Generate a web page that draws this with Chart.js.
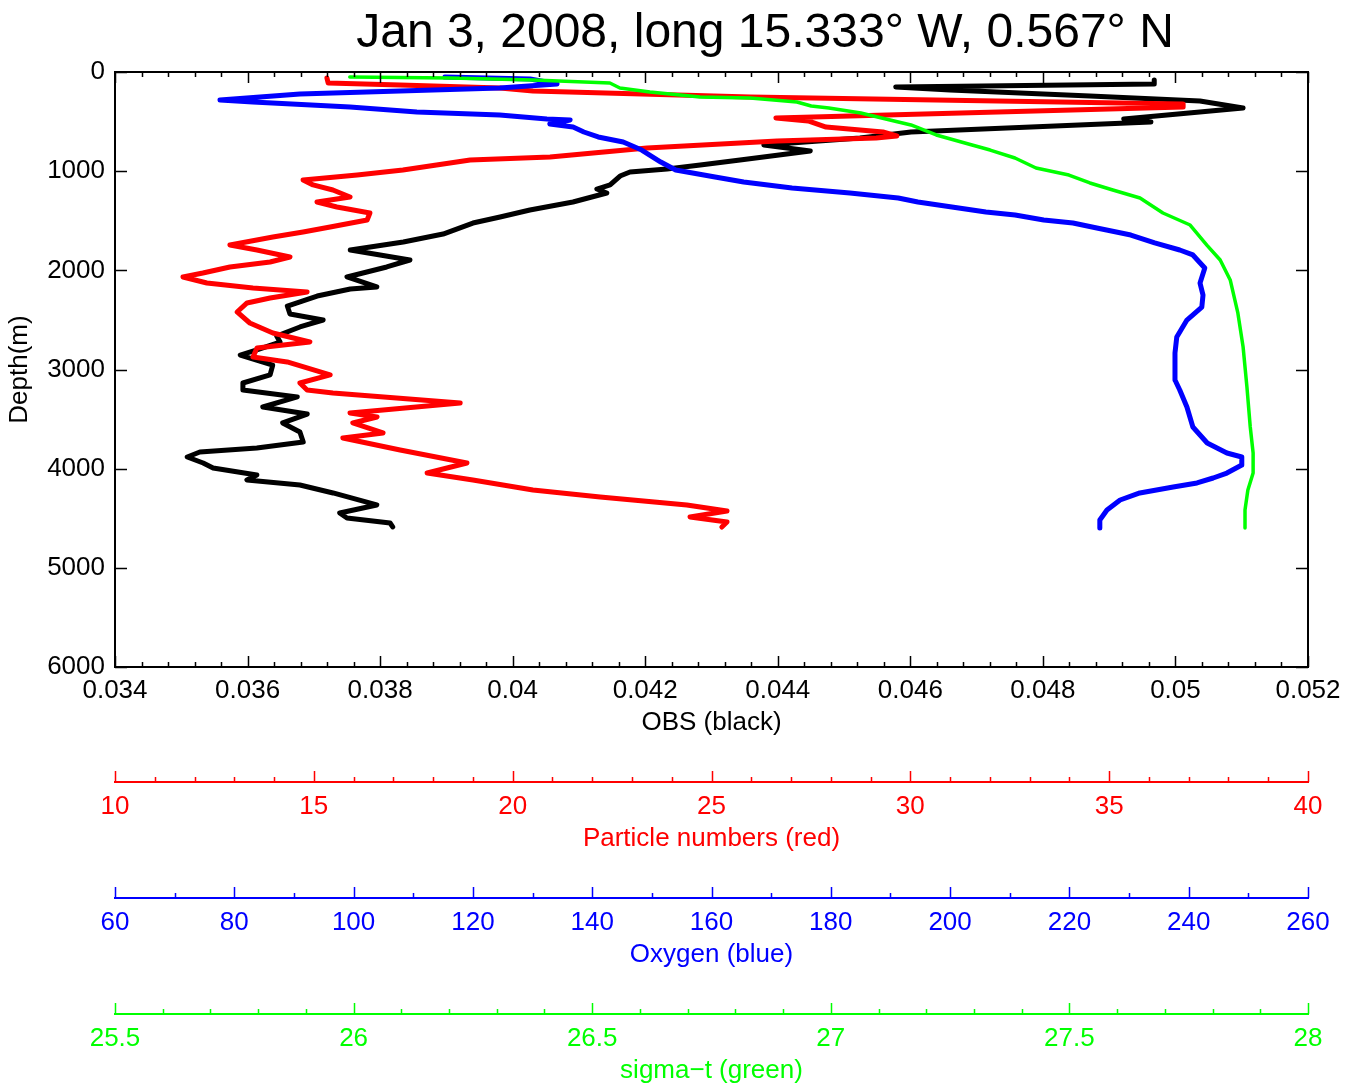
<!DOCTYPE html>
<html>
<head>
<meta charset="utf-8">
<title>Jan 3, 2008 profile</title>
<script src="https://cdn.jsdelivr.net/npm/chart.js@4.4.1/dist/chart.umd.min.js"></script>
<style>
  html, body { margin: 0; padding: 0; background: #fff; }
  #wrap { width: 1359px; height: 1088px; }
</style>
</head>
<body>
<div id="wrap"><canvas id="profile" width="1359" height="1088"></canvas></div>
<script>
// Cast of Jan 3, 2008 (15.333 W, 0.567 N): four quantities against depth

// OBS (black)
const obsDepth = [81, 121, 151, 182, 242, 292, 363, 474, 504, 605,
  666, 736, 797, 887, 938, 978, 1008, 1049, 1139, 1180,
  1220, 1311, 1392, 1462, 1523, 1634, 1714, 1795, 1896, 1966,
  2067, 2168, 2188, 2259, 2360, 2440, 2501, 2571, 2662, 2723,
  2803, 2854, 2955, 3055, 3136, 3207, 3277, 3378, 3449, 3539,
  3630, 3731, 3792, 3832, 3882, 3943, 3993, 4064, 4114, 4165,
  4245, 4366, 4447, 4497, 4548, 4588];
const obsValue = [0.04968, 0.04968, 0.04578, 0.04660, 0.04871, 0.05037, 0.05102, 0.04922, 0.04963, 0.04601,
  0.04524, 0.04379, 0.04449, 0.04343, 0.04283, 0.04233, 0.04177, 0.04162, 0.04147, 0.04127,
  0.04142, 0.04091, 0.04026, 0.03981, 0.03940, 0.03895, 0.03835, 0.03755, 0.03845, 0.03810,
  0.03750, 0.03795, 0.03755, 0.03705, 0.03660, 0.03664, 0.03714, 0.03679, 0.03644, 0.03649,
  0.03614, 0.03589, 0.03638, 0.03634, 0.03593, 0.03593, 0.03675, 0.03623, 0.03690, 0.03653,
  0.03679, 0.03684, 0.03614, 0.03528, 0.03509, 0.03533, 0.03548, 0.03614, 0.03599, 0.03679,
  0.03729, 0.03795, 0.03739, 0.03750, 0.03815, 0.03819];

// Particle numbers (red)
const particleDepth = [61, 111, 131, 161, 192, 252, 323, 353, 464, 494,
  555, 605, 645, 666, 696, 766, 857, 887, 988, 1039,
  1089, 1139, 1190, 1261, 1311, 1361, 1422, 1492, 1563, 1613,
  1664, 1745, 1795, 1866, 1916, 1966, 2027, 2067, 2128, 2178,
  2218, 2279, 2329, 2420, 2531, 2632, 2723, 2783, 2874, 2924,
  3055, 3136, 3207, 3237, 3338, 3439, 3479, 3539, 3640, 3691,
  3812, 3943, 4044, 4114, 4215, 4286, 4366, 4427, 4487, 4538, 4588];
const particleValue = [15.33, 15.36, 17.17, 19.68, 20.51, 25.97, 36.86, 36.86, 26.62, 27.43,
  27.88, 29.31, 29.66, 29.14, 26.65, 23.38, 20.94, 18.93, 17.24, 16.09,
  14.73, 14.98, 15.48, 15.91, 15.08, 15.58, 16.41, 16.34, 15.41, 14.73,
  13.97, 12.89, 13.57, 14.40, 13.90, 12.89, 12.21, 11.71, 12.31, 13.47,
  14.83, 13.90, 13.32, 13.07, 13.39, 13.97, 14.90, 13.57, 13.47, 14.33,
  15.41, 14.65, 14.83, 15.48, 18.68, 15.91, 16.59, 15.98, 16.74, 15.73,
  17.17, 18.85, 17.85, 19.00, 20.51, 22.20, 24.38, 25.39, 24.46, 25.39, 25.26];

// Oxygen (blue)
const oxygenDepth = [50, 71, 121, 161, 202, 222, 282, 303, 353, 403,
  434, 474, 484, 524, 555, 605, 655, 706, 787, 908,
  988, 1059, 1109, 1170, 1220, 1271, 1311, 1361, 1412, 1442,
  1492, 1523, 1573, 1644, 1724, 1795, 1845, 1976, 2128, 2249,
  2370, 2501, 2672, 2834, 3106, 3207, 3378, 3580, 3741, 3842,
  3882, 3963, 4044, 4094, 4144, 4185, 4245, 4316, 4417, 4518, 4598];
const oxygenValue = [115.3, 129.6, 134.1, 124.5, 102.2, 91.0, 77.6, 83.1, 99.4, 110.6,
  124.5, 132.4, 136.3, 132.9, 136.8, 138.6, 141.0, 145.2, 148.3, 151.5,
  154.0, 160.6, 165.4, 173.5, 183.2, 191.3, 194.6, 200.3, 206.0, 210.9,
  215.7, 220.6, 224.6, 230.3, 234.3, 238.5, 240.7, 242.7, 241.9, 242.4,
  242.2, 239.7, 238.0, 237.7, 237.7, 238.5, 239.7, 240.7, 243.1, 246.4,
  248.9, 248.9, 246.4, 244.1, 241.4, 237.4, 231.8, 228.5, 226.3, 225.1, 225.1];

// sigma-t (green)
const sigmaDepth = [50, 61, 81, 111, 161, 202, 252, 262, 303, 343,
  363, 413, 484, 534, 635, 736, 787, 867, 968, 1039,
  1119, 1190, 1271, 1422, 1543, 1745, 1896, 2097, 2430, 2773,
  3176, 3580, 3842, 4044, 4215, 4417, 4598];
const sigmaValue = [25.992, 26.202, 26.376, 26.537, 26.558, 26.621, 26.726, 26.831, 26.929, 26.959,
  26.996, 27.063, 27.124, 27.168, 27.221, 27.296, 27.334, 27.386, 27.430, 27.499,
  27.543, 27.591, 27.648, 27.696, 27.753, 27.788, 27.816, 27.837, 27.853, 27.864,
  27.872, 27.879, 27.885, 27.885, 27.874, 27.868, 27.868];

// axis tick labels
const depthTicks = [0, 1000, 2000, 3000, 4000, 5000, 6000];
const obsTicks = [0.034, 0.036, 0.038, 0.040, 0.042, 0.044, 0.046, 0.048, 0.050, 0.052];
const particleTicks = [10, 15, 20, 25, 30, 35, 40];
const oxygenTicks = [60, 80, 100, 120, 140, 160, 180, 200, 220, 240, 260];
const sigmaTicks = [25.5, 26, 26.5, 27, 27.5, 28];

const titleText = 'Jan 3, 2008, long 15.333\u00b0 W, 0.567\u00b0 N';

const RED = '#ff0000';
const BLUE = '#0000ff';
const GREEN = '#00ff00';

Chart.defaults.font.family = "'Liberation Sans', Arial, Helvetica, sans-serif";
Chart.defaults.font.size = 26;
Chart.defaults.color = '#000';

function toPoints(depths, values) {
    return depths.map((d, i) => ({ x: values[i], y: d }));
}

function fixedTicks(list) {
    return scale => { scale.ticks = list.map(v => ({ value: v })); };
}

function trimNum(v) {
    return String(+v.toFixed(4));
}

// inward (or upward) tick marks: every minor step, longer on the majors
function tickMarks(ctx, scale, minorStep, perMajor, base, dir, majorLen, minorLen) {
    const n = Math.round((scale.max - scale.min) / minorStep);
    for (let i = 0; i <= n; i++) {
        const v = scale.min + i * minorStep;
        const p = Math.round(scale.getPixelForValue(v)) + 0.5;
        const len = i % perMajor === 0 ? majorLen : minorLen;
        if (scale.isHorizontal()) {
            ctx.moveTo(p, base);
            ctx.lineTo(p, base + dir * len);
        } else {
            ctx.moveTo(base, p);
            ctx.lineTo(base + dir * len, p);
        }
    }
}

const profileFrame = {
    id: 'profileFrame',
    afterDatasetsDraw(chart) {
        const { ctx, chartArea: a, scales } = chart;
        ctx.save();
        ctx.strokeStyle = '#000';
        ctx.lineWidth = 2;
        ctx.strokeRect(a.left, a.top, a.right - a.left, a.bottom - a.top);

        ctx.lineWidth = 1.5;
        ctx.beginPath();
        tickMarks(ctx, scales.x, 0.0004, 5, a.bottom, -1, 11, 5);
        tickMarks(ctx, scales.x, 0.0004, 5, a.top, 1, 11, 5);
        tickMarks(ctx, scales.y, 1000, 1, a.left, 1, 12, 12);
        tickMarks(ctx, scales.y, 1000, 1, a.right, -1, 12, 12);
        ctx.stroke();

        // rulers for the other three quantities, ticks pointing up
        const rulers = [
            [scales.xRed, 1, 5, RED],
            [scales.xBlue, 10, 2, BLUE],
            [scales.xGreen, 0.1, 5, GREEN]
        ];
        rulers.forEach(([s, step, per, color]) => {
            ctx.strokeStyle = color;
            ctx.lineWidth = 1.5;
            ctx.beginPath();
            tickMarks(ctx, s, step, per, s.top, -1, 11, 5);
            ctx.stroke();
        });

        ctx.fillStyle = '#000';
        ctx.font = "48px 'Liberation Sans', Arial, sans-serif";
        ctx.textAlign = 'center';
        ctx.textBaseline = 'alphabetic';
        ctx.fillText(titleText, 765, 47);
        ctx.restore();
    }
};

function line(data, color, width, xAxisID, order) {
    return {
        data: data,
        xAxisID: xAxisID,
        yAxisID: 'y',
        borderColor: color,
        backgroundColor: color,
        borderWidth: width,
        borderJoinStyle: 'round',
        borderCapStyle: 'round',
        showLine: true,
        pointRadius: 0,
        tension: 0,
        fill: false,
        order: order
    };
}

function ruler(min, max, ticks, color, title, weight, height, titlePad) {
    return {
        type: 'linear',
        position: 'bottom',
        weight: weight,
        min: min,
        max: max,
        grid: { display: false, drawTicks: false },
        border: { display: true, color: color, width: 2 },
        ticks: { color: color, padding: 9, maxRotation: 0, autoSkip: false, callback: trimNum },
        title: { display: true, text: title, color: color, padding: { top: 0, bottom: titlePad } },
        afterBuildTicks: fixedTicks(ticks),
        afterFit: s => { s.height = height; }
    };
}

new Chart(document.getElementById('profile'), {
    type: 'scatter',
    data: {
        datasets: [
            line(toPoints(obsDepth, obsValue), '#000000', 5, 'x', 3),
            line(toPoints(particleDepth, particleValue), RED, 5, 'xRed', 2),
            line(toPoints(oxygenDepth, oxygenValue), BLUE, 5, 'xBlue', 1),
            line(toPoints(sigmaDepth, sigmaValue), GREEN, 3.5, 'xGreen', 0)
        ]
    },
    options: {
        responsive: false,
        animation: false,
        layout: { padding: { top: 72, right: 51, bottom: 0, left: 0 } },
        plugins: {
            legend: { display: false },
            tooltip: { enabled: false },
            title: { display: false }
        },
        scales: {
            x: {
                type: 'linear',
                position: 'bottom',
                weight: 0,
                min: 0.034,
                max: 0.052,
                grid: { display: false, drawTicks: false },
                border: { display: false },
                ticks: { padding: 8, maxRotation: 0, autoSkip: false, callback: trimNum },
                title: { display: true, text: 'OBS (black)', padding: { top: 0, bottom: 44 } },
                afterBuildTicks: fixedTicks(obsTicks),
                afterFit: s => { s.height = 115; }
            },
            xRed: ruler(10, 40, particleTicks, RED, 'Particle numbers (red)', 1, 116, 44),
            xBlue: ruler(60, 260, oxygenTicks, BLUE, 'Oxygen (blue)', 2, 116, 44),
            xGreen: ruler(25.5, 28, sigmaTicks, GREEN, 'sigma\u2212t (green)', 3, 74, 2),
            y: {
                type: 'linear',
                position: 'left',
                reverse: true,
                min: 0,
                max: 6000,
                grid: { display: false, drawTicks: false },
                border: { display: false },
                ticks: { padding: 10, autoSkip: false, callback: v => String(v) },
                title: { display: true, text: 'Depth(m)', padding: { top: 4, bottom: 0 } },
                afterBuildTicks: fixedTicks(depthTicks),
                afterFit: s => { s.width = 115; }
            }
        }
    },
    plugins: [profileFrame]
});
</script>
</body>
</html>
